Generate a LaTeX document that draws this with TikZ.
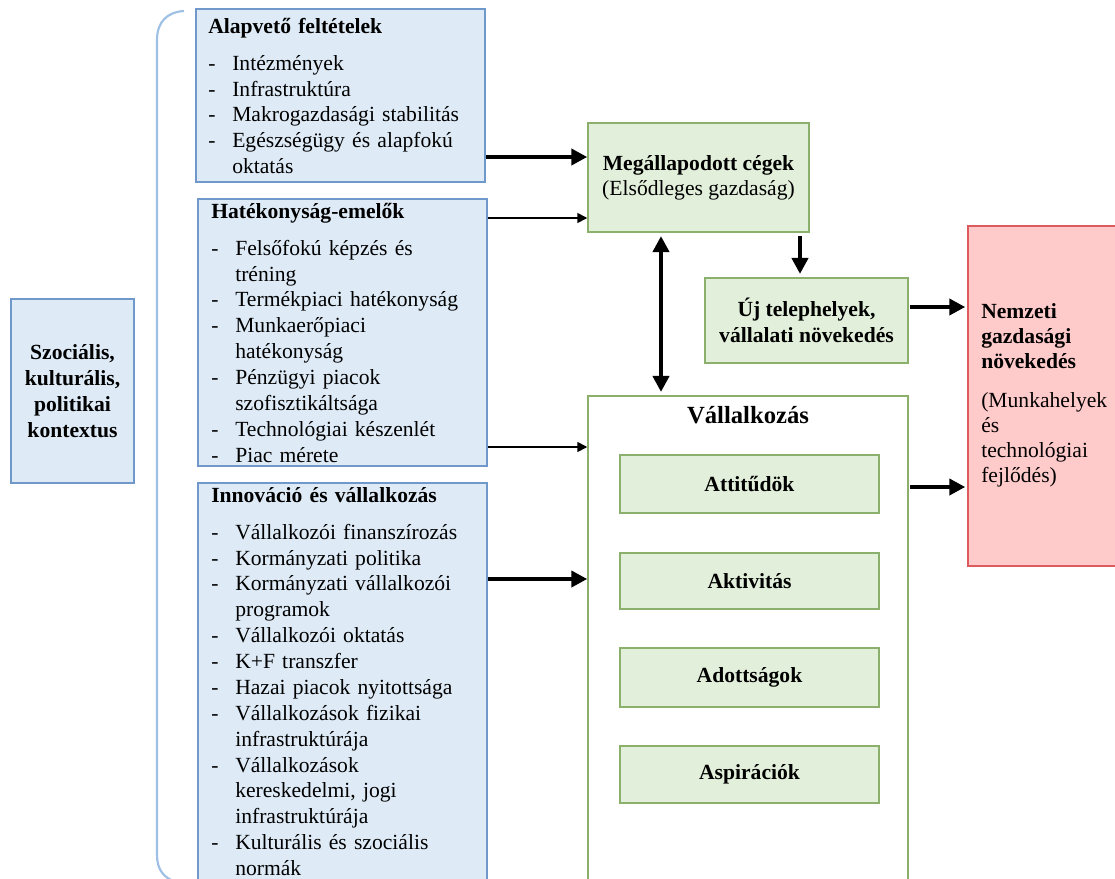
\documentclass[tikz,border=0pt]{standalone}
\usepackage{fontspec}
\setmainfont{Liberation Serif}
\usetikzlibrary{arrows.meta,fit}
\definecolor{blueF}{HTML}{DEEBF7}
\definecolor{blueD}{HTML}{7198CB}
\definecolor{greenF}{HTML}{E2EFDA}
\definecolor{greenD}{HTML}{8AB06C}
\definecolor{redF}{HTML}{FFCACA}
\definecolor{redD}{HTML}{DE5A5E}
\definecolor{brk}{HTML}{9DC0E4}
\newcommand\itm[1]{\par\noindent\makebox[18pt][l]{-}#1}
\newcommand\cnt[1]{\par\noindent\hspace*{18pt}#1}
\newcommand\ttl[1]{\noindent\textbf{#1}\par\vspace{8.5pt}}
\tikzset{
  bluebox/.style={draw=blueD,fill=blueF,line width=1.1pt,inner sep=0pt},
  greenbox/.style={draw=greenD,fill=greenF,line width=1.1pt,inner sep=0pt},
  vallbox/.style={draw=greenD,fill=white,line width=1.1pt,inner sep=0pt},
  redbox/.style={draw=redD,fill=redF,line width=1.1pt,inner sep=0pt},
  txt/.style={inner sep=0pt,font=\fontsize{16.2}{19.4}\selectfont},
  listtxt/.style={txt,text width=215pt,align=left,anchor=base west},
  thickarr/.style={line width=3.4pt,-{Triangle[length=12pt,width=12pt]}},
  dblarr/.style={line width=3.4pt,{Triangle[length=12pt,width=12pt]}-{Triangle[length=12pt,width=12pt]}},
  thinarr/.style={line width=1.2pt,-{Triangle[length=7.5pt,width=7.5pt]}},
}
\begin{document}
\begin{tikzpicture}[x=0.75pt,y=-0.75pt]
\useasboundingbox (0,0) rectangle (1115,879);
\clip (0,0) rectangle (1115,879);
\fill[white] (0,0) rectangle (1115,879);
% bracket
\draw[brk,line width=1.6pt] (184,11) .. controls (167,12) and (157,22) .. (157,40) -- (157,855) .. controls (157,870) and (164,878) .. (176,882);
% left context box
\node[bluebox,fit={(11,299) (134,483)}] (szoc) {};
\node[txt,align=center,font=\fontsize{16.2}{19.5}\selectfont\bfseries] (szocT) at (72.5,391) {Szociális,\\kulturális,\\politikai\\kontextus};
% Alapvető
\node[bluebox,fit={(196,9) (485,182)}] (alap) {};
\node[listtxt] (alapT) at (208,33) {\ttl{Alapvető feltételek}\itm{Intézmények}\itm{Infrastruktúra}\itm{Makrogazdasági stabilitás}\itm{Egészségügy és alapfokú}\cnt{oktatás}};
% Hatékonyság
\node[bluebox,fit={(198,199) (487,466)}] (hat) {};
\node[listtxt] (hatT) at (211,218) {\ttl{Hatékonyság-emelők}\itm{Felsőfokú képzés és}\cnt{tréning}\itm{Termékpiaci hatékonyság}\itm{Munkaerőpiaci}\cnt{hatékonyság}\itm{Pénzügyi piacok}\cnt{szofisztikáltsága}\itm{Technológiai készenlét}\itm{Piac mérete}};
% Innováció
\node[bluebox,fit={(198,483) (487,900)}] (inn) {};
\node[listtxt] (innT) at (211,502) {\ttl{Innováció és vállalkozás}\itm{Vállalkozói finanszírozás}\itm{Kormányzati politika}\itm{Kormányzati vállalkozói}\cnt{programok}\itm{Vállalkozói oktatás}\itm{K+F transzfer}\itm{Hazai piacok nyitottsága}\itm{Vállalkozások fizikai}\cnt{infrastruktúrája}\itm{Vállalkozások}\cnt{kereskedelmi, jogi}\cnt{infrastruktúrája}\itm{Kulturális és szociális}\cnt{normák}};
% Megállapodott
\node[greenbox,fit={(588,123) (809,232)}] (meg) {};
\node[txt,align=center,font=\fontsize{16.2}{19}\selectfont] (megT) at (meg.center) {\textbf{Megállapodott cégek}\\(Elsődleges gazdaság)};
% Új telephelyek
\node[greenbox,fit={(705,278) (908,363)}] (uj) {};
\node[txt,align=center,font=\fontsize{16.2}{19.5}\selectfont\bfseries] (ujT) at (uj.center) {Új telephelyek,\\vállalati növekedés};
% Nemzeti
\node[redbox,fit={(968,226) (1125,566)}] (red) {};
\node[txt,text width=110pt,align=left,anchor=base west,font=\fontsize{16.2}{18.75}\selectfont] (redT) at (981,318) {\textbf{Nemzeti}\\\textbf{gazdasági}\\\textbf{növekedés}\\[11pt](Munkahelyek\\és\\technológiai\\fejlődés)};
% Vállalkozás
\node[vallbox,fit={(588,396) (908,900)}] (vall) {};
\node[txt,anchor=base,font=\fontsize{18.5}{22}\selectfont\bfseries] (vallT) at (748,423) {Vállalkozás};
\node[greenbox,fit={(620,455) (879,513)}] (att) {};
\node[txt,font=\fontsize{16.2}{19.4}\selectfont\bfseries] at (att.center) {Attitűdök};
\node[greenbox,fit={(620,553) (879,609)}] (akt) {};
\node[txt,font=\fontsize{16.2}{19.4}\selectfont\bfseries] at (akt.center) {Aktivitás};
\node[greenbox,fit={(620,648) (879,707)}] (ado) {};
\node[txt,font=\fontsize{16.2}{19.4}\selectfont\bfseries] at (ado.center) {Adottságok};
\node[greenbox,fit={(620,746) (879,803)}] (asp) {};
\node[txt,font=\fontsize{16.2}{19.4}\selectfont\bfseries] at (asp.center) {Aspirációk};
% helper coordinates
\coordinate (yA) at (0,157);
\coordinate (yB) at (0,218);
\coordinate (yC) at (0,447);
\coordinate (yD) at (0,579);
\coordinate (yE) at (0,307);
\coordinate (yF) at (0,487);
\coordinate (xA) at (661,0);
\coordinate (xB) at (800,0);
% arrows
\draw[thickarr] (alap.east |- yA) -- (meg.west |- yA);
\draw[thinarr] (hat.east |- yB) -- (meg.west |- yB);
\draw[thinarr] (hat.east |- yC) -- (vall.west |- yC);
\draw[thickarr] (inn.east |- yD) -- (vall.west |- yD);
\draw[dblarr,shorten <=2.5pt,shorten >=2.5pt] (meg.south -| xA) -- (vall.north -| xA);
\draw[thickarr,shorten <=2.5pt,shorten >=2.5pt] (meg.south -| xB) -- (uj.north -| xB);
\draw[thickarr,shorten <=1pt,shorten >=1.5pt] (uj.east |- yE) -- (red.west |- yE);
\draw[thickarr,shorten <=1pt,shorten >=1.5pt] (vall.east |- yF) -- (red.west |- yF);
\end{tikzpicture}
\end{document}
